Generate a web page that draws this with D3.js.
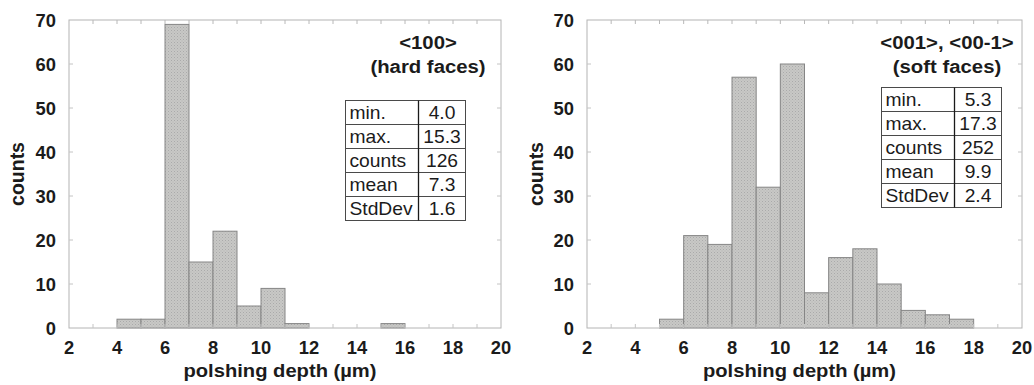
<!DOCTYPE html>
<html>
<head>
<meta charset="utf-8">
<script src="https://cdn.jsdelivr.net/npm/d3@7"></script>
<style>
  html, body { margin: 0; padding: 0; background: #ffffff; }
  svg { display: block; }
  text { font-family: "Liberation Sans", Arial, Helvetica, sans-serif; fill: #1b1b1b; }
</style>
</head>
<body>
<svg id="chart" width="1034" height="385"></svg>
<script>
// Histogram bins: 1 µm wide, from 2 µm to 20 µm
const binStarts = d3.range(2, 20, 1);
const hardCounts = [0, 0, 2, 2, 69, 15, 22, 5, 9, 1, 0, 0, 0, 1, 0, 0, 0, 0];
const softCounts = [0, 0, 0, 2, 21, 19, 57, 32, 60, 8, 16, 18, 10, 4, 3, 2, 0, 0];

const xTicks = [2, 4, 6, 8, 10, 12, 14, 16, 18, 20];
const yTicks = [0, 10, 20, 30, 40, 50, 60, 70];

const statLabels = ["min.", "max.", "counts", "mean", "StdDev"];
const hardStats = ["4.0", "15.3", "126", "7.3", "1.6"];
const softStats = ["5.3", "17.3", "252", "9.9", "2.4"];

const hardTitle = ["<100>", "(hard faces)"];
const softTitle = ["<001>, <00-1>", "(soft faces)"];

const xTitle = "polshing depth (\u00b5m)";
const yTitle = "counts";

const svg = d3.select("#chart");

// stippled grey fill for the bars
const defs = svg.append("defs");
const pat = defs.append("pattern")
  .attr("id", "stipple").attr("patternUnits", "userSpaceOnUse")
  .attr("width", 3).attr("height", 3);
pat.append("rect").attr("width", 3).attr("height", 3).attr("fill", "#c8c8c6");
pat.append("rect").attr("x", 0).attr("y", 0).attr("width", 1).attr("height", 1).attr("fill", "#aaaaaa");
pat.append("rect").attr("x", 1.5).attr("y", 1.5).attr("width", 1).attr("height", 1).attr("fill", "#b4b4b4");

// text with a slight horizontal stretch
function label(g, x, y, str, opts) {
  const o = Object.assign({ size: 17, weight: "bold", sx: 1.0, anchor: "middle", rotate: 0 }, opts || {});
  return g.append("text")
    .attr("transform", `translate(${x},${y}) rotate(${o.rotate}) scale(${o.sx},1)`)
    .attr("text-anchor", o.anchor)
    .style("font-size", o.size + "px")
    .style("font-weight", o.weight)
    .text(str);
}

function panel(cfg) {
  const g = svg.append("g");
  const x = d3.scaleLinear().domain([2, 20]).range([cfg.left, cfg.right]);
  const y = d3.scaleLinear().domain([0, 70]).range([328, 20]);

  // bars
  g.append("g").selectAll("rect")
    .data(cfg.counts.map((c, i) => ({ x0: binStarts[i], c })))
    .join("rect")
    .attr("x", d => x(d.x0))
    .attr("y", d => y(d.c))
    .attr("width", d => x(d.x0 + 1) - x(d.x0))
    .attr("height", d => y(0) - y(d.c))
    .attr("fill", "url(#stipple)")
    .attr("stroke", "#858585")
    .attr("stroke-width", 1);

  // plot frame
  g.append("rect")
    .attr("x", x(2)).attr("y", y(70))
    .attr("width", x(20) - x(2)).attr("height", y(0) - y(70))
    .attr("fill", "none").attr("stroke", "#b4b4b4").attr("stroke-width", 1);

  // faint inward ticks on the frame
  const minorX = d3.range(3, 20, 1);
  g.append("g").selectAll("line.tb")
    .data(minorX).join("line")
    .attr("x1", d => x(d)).attr("x2", d => x(d))
    .attr("y1", y(70)).attr("y2", y(70) + 4)
    .attr("stroke", "#b8b8b8");
  g.append("g").selectAll("line.bb")
    .data(minorX).join("line")
    .attr("x1", d => x(d)).attr("x2", d => x(d))
    .attr("y1", y(0)).attr("y2", y(0) - 4)
    .attr("stroke", "#c4c4c4");
  g.append("g").selectAll("line.lt")
    .data(yTicks.slice(1, -1)).join("line")
    .attr("x1", x(2)).attr("x2", x(2) + 4)
    .attr("y1", d => y(d)).attr("y2", d => y(d))
    .attr("stroke", "#c4c4c4");
  g.append("g").selectAll("line.rt")
    .data(yTicks.slice(1, -1)).join("line")
    .attr("x1", x(20)).attr("x2", x(20) - 4)
    .attr("y1", d => y(d)).attr("y2", d => y(d))
    .attr("stroke", "#c4c4c4");

  // tick labels
  xTicks.forEach(t => label(g, x(t), 354, String(t), { size: 18, sx: 1.02 }));
  yTicks.forEach(t => label(g, x(2) - 13, y(t) + 6.5, String(t), { size: 18, sx: 1.02, anchor: "end" }));

  // axis titles
  label(g, (x(2) + x(20)) / 2 - 5, 377, xTitle, { size: 18, sx: 1.12 });
  label(g, cfg.yTitleX, (y(0) + y(70)) / 2, yTitle, { size: 19.5, rotate: -90 });

  // panel heading
  label(g, cfg.titleX, 49, cfg.title[0], { size: 18, sx: 1.13 });
  label(g, cfg.titleX, 73, cfg.title[1], { size: 18, sx: 1.13 });

  // statistics table
  const rowH = 24, labW = 73, valW = 47;
  const tg = g.append("g").attr("transform", `translate(${cfg.tableX},${cfg.tableY})`);
  tg.append("rect").attr("width", labW + valW).attr("height", rowH * statLabels.length)
    .attr("fill", "#ffffff").attr("stroke", "#4a4a4a").attr("stroke-width", 1);
  tg.selectAll("line.row").data(d3.range(1, statLabels.length)).join("line")
    .attr("x1", 0).attr("x2", labW + valW)
    .attr("y1", d => d * rowH).attr("y2", d => d * rowH)
    .attr("stroke", "#4a4a4a");
  tg.append("line").attr("x1", labW).attr("x2", labW).attr("y1", 0).attr("y2", rowH * statLabels.length)
    .attr("stroke", "#1a1a1a").attr("stroke-width", 1.3);
  statLabels.forEach((s, i) => {
    label(tg, 4, i * rowH + 18.5, s, { size: 17.5, weight: "normal", sx: 1.1, anchor: "start" });
    label(tg, labW + valW / 2, i * rowH + 18.5, cfg.stats[i], { size: 17.5, weight: "normal", sx: 1.1 });
  });
}

panel({ left: 69, right: 501, counts: hardCounts, stats: hardStats, title: hardTitle,
        titleX: 428, tableX: 345.5, tableY: 100.5, yTitleX: 24 });
panel({ left: 587, right: 1022, counts: softCounts, stats: softStats, title: softTitle,
        titleX: 947, tableX: 881.5, tableY: 87.5, yTitleX: 543 });
</script>
</body>
</html>
